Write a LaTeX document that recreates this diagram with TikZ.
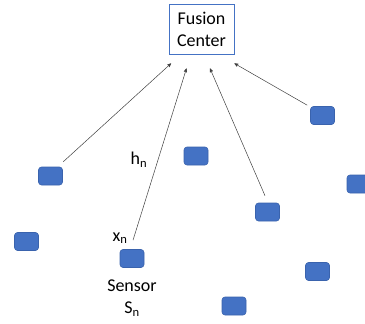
\documentclass[tikz,border=0pt]{standalone}
\usepackage{fontspec}
\setmainfont{Carlito}
\usepackage{tikz}
\usetikzlibrary{arrows,positioning}
\definecolor{sensorBlue}{HTML}{4472C4}
\definecolor{sensorEdge}{HTML}{3A63AD}
\definecolor{lineGray}{HTML}{404040}

\begin{document}
\begin{tikzpicture}
	[ x=1pt, y=-1pt, node distance=2pt and 0pt,
		sensor/.style={rectangle,rounded corners=3pt,draw=sensorEdge,fill=sensorBlue,line width=0.6pt,minimum width=24pt,minimum height=18pt,inner sep=0pt},
		center/.style={rectangle,draw=sensorBlue,line width=0.8pt,minimum width=65pt,minimum height=50pt,align=center,inner sep=0pt,font=\fontsize{18}{22}\selectfont},
		label/.style={inner sep=0pt,font=\fontsize{18}{22}\selectfont},
		arrowOut/.style={->,>=stealth',draw=lineGray,line width=0.5pt}]

	\useasboundingbox (0,0) rectangle (365,324);

	\node[center] (fusion) at (201.5,29) {Fusion\\Center};

	\node[sensor] (upper left) at (50.5,176) {};
	\node[sensor] (lower left) at (26.5,241.5) {};
	\node[sensor] (sensor n) at (132,258.5) {};
	\node[sensor] (middle) at (196,156) {};
	\node[sensor] (upper right) at (322.5,115.5) {};
	\node[sensor] (far right) at (359,184) {};
	\node[sensor] (middle right) at (267.5,212) {};
	\node[sensor] (lower right) at (317.5,271.5) {};
	\node[sensor] (bottom) at (234,306) {};

	\node[label,align=center] (sensor name) [below=12pt of sensor n] {Sensor\\S\textsubscript{n}};
	\node[label] (channel) at (139,160) {h\textsubscript{n}};
	\node[label] (signal) at (120,238) {x\textsubscript{n}};

	\draw[arrowOut] ([shift={(0.5,-5)}]upper left.north east) -- ([shift={(2.5,9)}]fusion.south west);
	\draw[arrowOut] ([shift={(1,-9)}]sensor n.north) -- ([shift={(-15,14)}]fusion.south);
	\draw[arrowOut] ([shift={(-2.5,-7)}]middle right.north) -- ([shift={(8.5,14)}]fusion.south);
	\draw[arrowOut] ([shift={(-3,-1)}]upper right.north west) -- ([shift={(0,9)}]fusion.south east);
\end{tikzpicture}
\end{document}
